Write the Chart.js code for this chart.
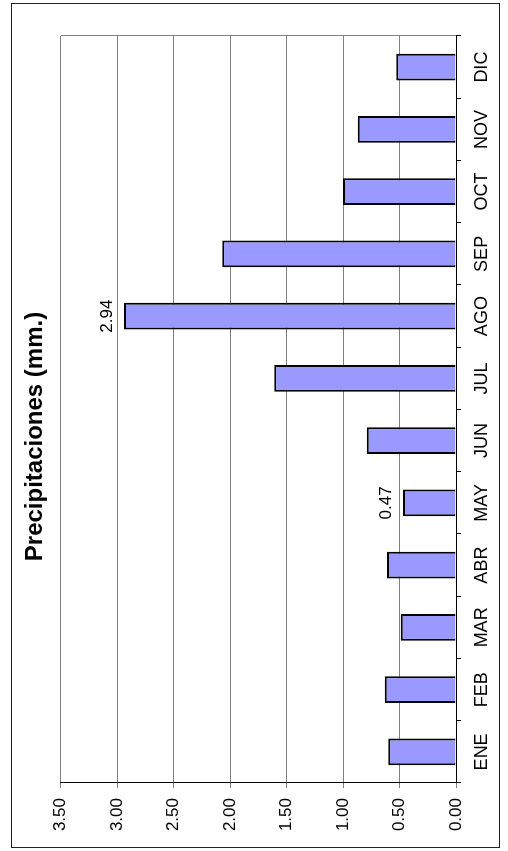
<!DOCTYPE html>
<html lang="es">
<head>
<meta charset="utf-8">
<title>Precipitaciones</title>
<script src="https://cdn.jsdelivr.net/npm/chart.js@4.4.1/dist/chart.umd.min.js"></script>
<style>
  html, body { margin: 0; padding: 0; background: #fff; }
  body { width: 508px; height: 851px; position: relative; overflow: hidden; }
  /* el gráfico se dibuja horizontal y se gira 90° a la izquierda */
  #marco {
    position: absolute; left: 0; top: 0;
    width: 845px; height: 489px;
    box-sizing: border-box;
    border: 1px solid #222;
    background: #fff;
    transform-origin: 0 0;
    transform: translate(11px, 848px) rotate(-90deg);
  }
  #grafico { display: block; }
</style>
</head>
<body>
<div id="marco">
  <canvas id="grafico" width="843" height="487"></canvas>
</div>
<script>
// datos
const meses = ['ENE', 'FEB', 'MAR', 'ABR', 'MAY', 'JUN', 'JUL', 'AGO', 'SEP', 'OCT', 'NOV', 'DIC'];
const precipitaciones = [0.60, 0.63, 0.49, 0.61, 0.47, 0.79, 1.61, 2.94, 2.07, 1.00, 0.87, 0.53];
const mesesRotulados = ['MAY', 'AGO'];   // meses con el valor escrito encima
const ejeMin = 0;
const ejeMax = 3.5;
const ejePaso = 0.5;

const fuente = "Arial, 'Liberation Sans', sans-serif";

// borde gris del área de trazado (lado derecho) y rótulos de valor
const extras = {
    id: 'extras',
    beforeDatasetsDraw(chart) {
        const { ctx, chartArea: a } = chart;
        ctx.save();
        ctx.strokeStyle = '#808080';
        ctx.lineWidth = 1;
        ctx.beginPath();
        ctx.moveTo(Math.round(a.right) + 0.5, a.top);
        ctx.lineTo(Math.round(a.right) + 0.5, a.bottom);
        ctx.stroke();
        ctx.restore();
    },
    afterDatasetsDraw(chart) {
        const { ctx } = chart;
        const barras = chart.getDatasetMeta(0).data;
        ctx.save();
        ctx.font = '17px ' + fuente;
        ctx.fillStyle = '#000';
        ctx.textAlign = 'center';
        ctx.textBaseline = 'alphabetic';
        mesesRotulados.forEach(m => {
            const i = meses.indexOf(m);
            const b = barras[i];
            ctx.fillText(precipitaciones[i].toFixed(2), b.x, b.y - 12);
        });
        ctx.restore();
    }
};

new Chart(document.getElementById('grafico'), {
    type: 'bar',
    data: {
        labels: meses,
        datasets: [{
            data: precipitaciones,
            backgroundColor: '#9999FF',
            borderColor: '#000',
            borderWidth: 2,
            borderSkipped: 'start',
            categoryPercentage: 1,
            barPercentage: 0.43
        }]
    },
    options: {
        responsive: false,
        animation: false,
        layout: { padding: { left: 10, right: 32, top: 0, bottom: 0 } },
        plugins: {
            legend: { display: false },
            tooltip: { enabled: false },
            title: {
                display: true,
                text: 'Precipitaciones (mm.)',
                color: '#000',
                font: { family: fuente, size: 24, weight: 'bold', lineHeight: 1.2 },
                padding: { top: 9, bottom: 11 }
            }
        },
        scales: {
            x: {
                grid: { display: true, drawOnChartArea: false, offset: true, tickLength: 5, color: '#000' },
                border: { color: '#000', width: 1 },
                ticks: { color: '#000', font: { family: fuente, size: 18 }, padding: 10, maxRotation: 0 },
                afterFit(s) { s.height = 43; }
            },
            y: {
                min: ejeMin,
                max: ejeMax,
                grid: { color: '#808080', tickLength: 5 },
                border: { color: '#000', width: 1 },
                ticks: {
                    stepSize: ejePaso,
                    color: '#000',
                    font: { family: fuente, size: 17 },
                    padding: 10,
                    callback: v => Number(v).toFixed(2)
                },
                afterFit(s) { s.width = 54; }
            }
        }
    },
    plugins: [extras]
});
</script>
</body>
</html>
